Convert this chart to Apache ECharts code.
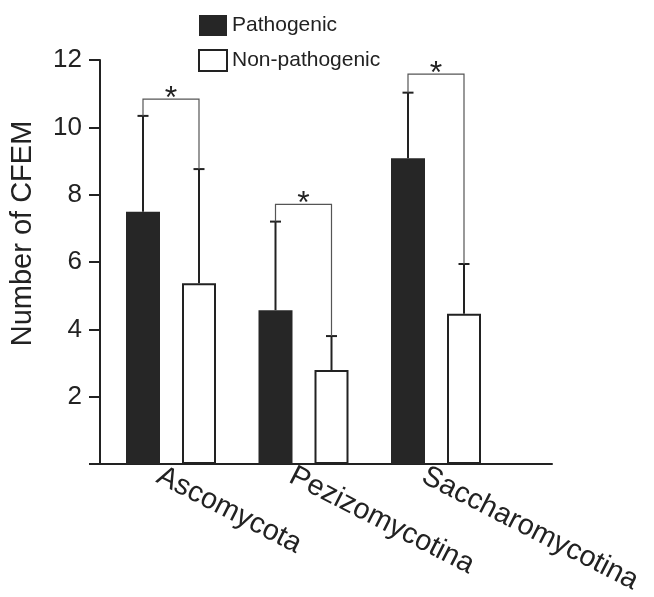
<!DOCTYPE html>
<html>
<head>
<meta charset="utf-8">
<script src="https://cdn.jsdelivr.net/npm/echarts@6/dist/echarts.min.js"></script>
<style>
  html, body { margin: 0; padding: 0; background: #fff; }
  #chart { width: 654px; height: 597px; }
</style>
</head>
<body>
<div id="chart"></div>
<script>
// 数据
const categories = ['Ascomycota', 'Pezizomycotina', 'Saccharomycotina']
const pathogenic = [7.49, 4.57, 9.08]
const nonPathogenic = [5.37, 2.79, 4.46]
const pathogenicSd = [2.85, 2.63, 1.95]
const nonPathogenicSd = [3.39, 1.01, 1.48]
const bracketLevel = [10.84, 7.71, 11.58]
const sigMarks = ['*', '*', '*']

const FONT = 'Liberation Sans'
const INK = '#222'
const barW = 34
const gapPx = 22
const off = (barW + gapPx) / 2

const chart = echarts.init(document.getElementById('chart'))

// 误差线
const errorItem = (sign) => (params, api) => {
  const i = api.value(0)
  const base = api.coord([i, api.value(1)])
  const top = api.coord([i, api.value(2)])
  const x = base[0] + sign * off
  return {
    type: 'group',
    children: [
      { type: 'line', shape: { x1: x, y1: base[1], x2: x, y2: top[1] }, style: { stroke: INK, lineWidth: 2 } },
      { type: 'line', shape: { x1: x - 5.5, y1: top[1], x2: x + 5.5, y2: top[1] }, style: { stroke: INK, lineWidth: 2 } }
    ]
  }
}

// 显著性括号
const bracketItem = (params, api) => {
  const i = api.value(0)
  const pTop = api.coord([i, api.value(1)])
  const nTop = api.coord([i, api.value(2)])
  const lvl = api.coord([i, api.value(3)])
  const xL = pTop[0] - off
  const xR = pTop[0] + off
  return {
    type: 'group',
    children: [
      {
        type: 'polyline',
        shape: { points: [[xL, pTop[1]], [xL, lvl[1]], [xR, lvl[1]], [xR, nTop[1]]] },
        style: { stroke: '#555', lineWidth: 1.2, fill: null }
      },
      {
        type: 'text',
        style: {
          x: (xL + xR) / 2, y: lvl[1], text: sigMarks[params.dataIndex],
          textAlign: 'center', textVerticalAlign: 'middle',
          font: '32px "' + FONT + '"', fill: INK
        }
      }
    ]
  }
}

const option = {
  backgroundColor: '#fff',
  animation: false,
  textStyle: { fontFamily: FONT, color: INK },
  legend: {
    data: ['Pathogenic', 'Non-pathogenic'],
    orient: 'vertical',
    left: 193,
    top: 10,
    icon: 'rect',
    itemWidth: 28,
    itemHeight: 21,
    itemGap: 13,
    textStyle: { fontSize: 21, color: INK, fontFamily: FONT }
  },
  grid: [
    { left: 104.75, width: 397.5, top: 60, bottom: 133 },
    { left: 96, right: 102, top: 60, bottom: 133 },
    { left: 92.5, width: 397.5, top: 60, bottom: 133 }
  ],
  xAxis: [
    { type: 'category', gridIndex: 0, data: categories, show: false },
    {
      type: 'value', gridIndex: 1, min: 0, max: 1,
      axisLine: { show: true, lineStyle: { color: INK, width: 2 } },
      axisTick: { show: false }, axisLabel: { show: false }, splitLine: { show: false }
    },
    {
      type: 'category', gridIndex: 2, data: categories,
      axisLine: { show: false }, axisTick: { show: false },
      axisLabel: { rotate: -27, margin: 20, fontSize: 29, color: INK, fontFamily: FONT, interval: 0 }
    }
  ],
  yAxis: [
    { type: 'value', gridIndex: 0, min: 0, max: 12, show: false },
    {
      type: 'value', gridIndex: 1, min: 0, max: 12, interval: 2,
      name: 'Number of CFEM',
      nameLocation: 'middle',
      nameGap: 63,
      nameTextStyle: { fontSize: 29, color: INK, fontFamily: FONT, padding: [0, 0, 0, 57] },
      axisLine: { show: true, lineStyle: { color: INK, width: 2 } },
      axisTick: { show: true, length: 11, lineStyle: { color: INK, width: 2 } },
      axisLabel: {
        fontSize: 26, color: INK, margin: 18, fontFamily: FONT,
        formatter: (v) => (v === 0 ? '' : v)
      },
      splitLine: { show: false }
    },
    { type: 'value', gridIndex: 2, min: 0, max: 12, show: false }
  ],
  series: [
    {
      name: 'Pathogenic', type: 'bar', xAxisIndex: 0, yAxisIndex: 0,
      data: pathogenic, barWidth: barW, barGap: (gapPx / barW * 100) + '%',
      itemStyle: { color: '#262626' }, z: 2
    },
    {
      name: 'Non-pathogenic', type: 'bar', xAxisIndex: 0, yAxisIndex: 0,
      data: nonPathogenic, barWidth: barW,
      itemStyle: { color: '#fff', borderColor: INK, borderWidth: 2 }, z: 2
    },
    {
      type: 'custom', xAxisIndex: 0, yAxisIndex: 0, z: 3,
      renderItem: errorItem(-1),
      data: pathogenic.map((v, i) => [i, v, v + pathogenicSd[i]])
    },
    {
      type: 'custom', xAxisIndex: 0, yAxisIndex: 0, z: 3,
      renderItem: errorItem(1),
      data: nonPathogenic.map((v, i) => [i, v, v + nonPathogenicSd[i]])
    },
    {
      type: 'custom', xAxisIndex: 0, yAxisIndex: 0, z: 3,
      renderItem: bracketItem,
      data: categories.map((c, i) => [i, pathogenic[i] + pathogenicSd[i], nonPathogenic[i] + nonPathogenicSd[i], bracketLevel[i]])
    }
  ]
}

chart.setOption(option)
</script>
</body>
</html>
